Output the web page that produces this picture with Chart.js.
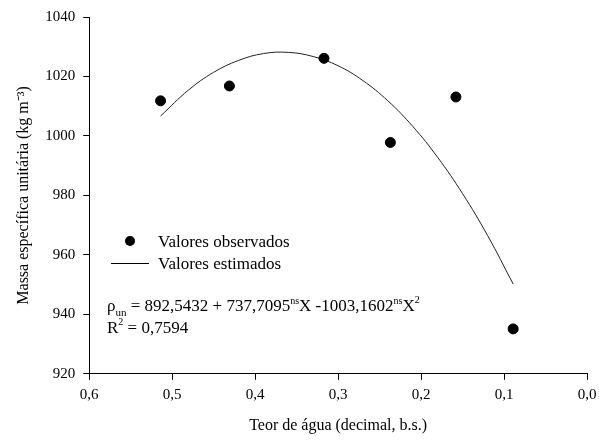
<!DOCTYPE html>
<html>
<head>
<meta charset="utf-8">
<script src="https://cdn.jsdelivr.net/npm/chart.js@4.4.1/dist/chart.umd.min.js"></script>
<style>
  html, body { margin: 0; padding: 0; background: #fff; }
  #wrap { width: 599px; height: 441px; }
</style>
</head>
<body>
<div id="wrap"><canvas id="modelChart" width="599" height="441"></canvas></div>
<script>
// observed points
var obsX = [0.514, 0.431, 0.317, 0.237, 0.158, 0.089];
var obsY = [1011.8, 1016.8, 1026.1, 997.8, 1013.1, 935.1];
// fitted curve
var fitX = [0.514, 0.48, 0.45, 0.42, 0.39, 0.36, 0.33, 0.30, 0.27, 0.24, 0.21, 0.18, 0.15, 0.12, 0.089];
var fitY = [1006.7, 1015.5, 1021.4, 1025.4, 1027.7, 1028.1, 1026.7, 1023.6, 1018.6, 1011.8, 1003.2, 992.8, 980.6, 966.6, 950.2];
var xTicks = [0.6, 0.5, 0.4, 0.3, 0.2, 0.1, 0.0];
var yTicks = [920, 940, 960, 980, 1000, 1020, 1040];

var font = "'Liberation Serif', 'Times New Roman', serif";

function pts(xs, ys) {
  return xs.map(function (x, i) { return { x: x, y: ys[i] }; });
}

// legend + equation drawn by hand (needs sub/superscripts)
var notes = {
  id: "notes",
  afterDraw: function (chart) {
    var c = chart.ctx;
    c.save();
    c.fillStyle = "#000";
    c.strokeStyle = "#000";
    c.textBaseline = "alphabetic";
    c.font = "17px " + font;

    c.beginPath();
    c.arc(130, 241, 5, 0, Math.PI * 2);
    c.fill();
    c.fillText("Valores observados", 158, 247);

    c.lineWidth = 1;
    c.beginPath();
    c.moveTo(111, 263.5);
    c.lineTo(149, 263.5);
    c.stroke();
    c.fillText("Valores estimados", 158, 269);

    // equation line
    var x = 107, base = 311;
    function part(txt, size, dy) {
      c.font = size + "px " + font;
      c.fillText(txt, x, base + dy);
      x += c.measureText(txt).width;
    }
    part("\u03C1", 17, 0);
    part("un", 11, 5);
    part(" = 892,5432 + 737,7095", 17, 0);
    part("ns", 10, -7);
    part("X -1003,1602", 17, 0);
    part("ns", 10, -7);
    part("X", 17, 0);
    part("2", 10, -8);

    x = 107; base = 333;
    part("R", 17, 0);
    part("2", 10, -8);
    part(" = 0,7594", 17, 0);
    c.restore();
  }
};

var ctx = document.getElementById("modelChart");
var myChart = new Chart(ctx, {
  type: "scatter",
  data: {
    datasets: [
      {
        label: "Valores observados",
        data: pts(obsX, obsY),
        backgroundColor: "#000",
        borderColor: "#000",
        pointRadius: 5,
        pointHoverRadius: 5,
      },
      {
        label: "Valores estimados",
        type: "line",
        data: pts(fitX, fitY),
        borderColor: "#222",
        borderWidth: 1,
        pointRadius: 0,
        tension: 0.4,
        fill: false,
      },
    ],
  },
  options: {
    responsive: false,
    animation: false,
    layout: { padding: { top: 7, right: 0, left: 10, bottom: 2 } },
    plugins: { legend: { display: false }, tooltip: { enabled: false } },
    scales: {
      x: {
        type: "linear",
        reverse: true,
        min: 0,
        max: 0.6,
        afterBuildTicks: function (ax) { ax.ticks = xTicks.map(function (v) { return { value: v }; }); },
        afterFit: function (ax) { ax.paddingRight = 12; },
        ticks: {
          color: "#000",
          font: { family: font, size: 15 },
          padding: 6,
          callback: function (v) { return v.toFixed(1).replace(".", ","); },
        },
        grid: { drawOnChartArea: false, drawTicks: true, tickLength: 6, color: "#000" },
        border: { color: "#000" },
        title: { display: true, text: "Teor de \u00e1gua (decimal, b.s.)", color: "#000", font: { family: font, size: 16 }, padding: { top: 6 } },
      },
      y: {
        min: 920,
        max: 1040,
        afterBuildTicks: function (ax) { ax.ticks = yTicks.map(function (v) { return { value: v }; }); },
        ticks: {
          color: "#000",
          font: { family: font, size: 15 },
          padding: 8,
          callback: function (v) { return String(v); },
        },
        grid: { drawOnChartArea: false, drawTicks: true, tickLength: 6, color: "#000" },
        border: { color: "#000" },
        title: { display: true, text: "Massa espec\u00edfica unit\u00e1ria (kg m\u207B\u00B3)", color: "#000", font: { family: font, size: 16 }, padding: { bottom: 4 } },
      },
    },
  },
  plugins: [notes],
});
</script>
</body>
</html>
